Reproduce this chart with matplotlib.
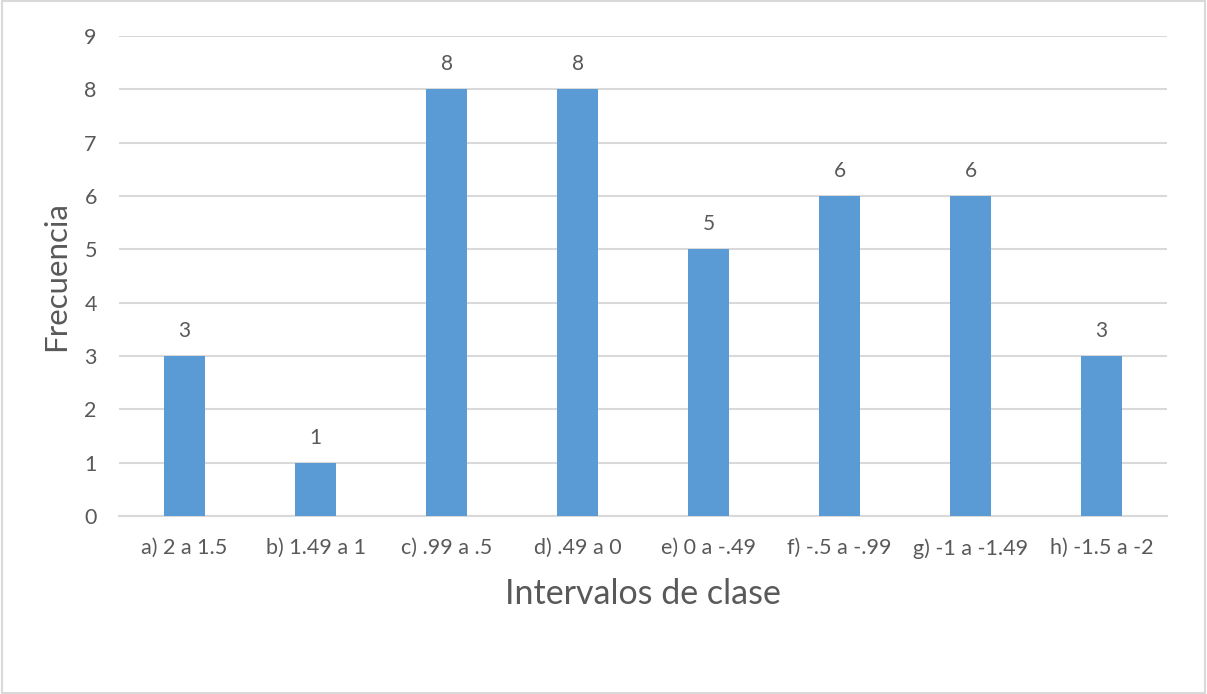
import matplotlib.pyplot as plt
from matplotlib.patches import Rectangle

intervalos = ['a) 2 a 1.5', 'b) 1.49 a 1', 'c) .99 a .5', 'd) .49 a 0',
              'e) 0 a -.49', 'f) -.5 a -.99', 'g) -1 a -1.49', 'h) -1.5 a -2']
frecuencia = [3, 1, 8, 8, 5, 6, 6, 3]
yticks = list(range(0, 10))

AZUL = '#5B9BD5'
GRIS_TEXTO = '#595959'
GRIS_LINEA = '#D9D9D9'

plt.rcParams['font.family'] = ['Lato', 'DejaVu Sans']

fig = plt.figure(figsize=(12.07, 6.94), dpi=100)
# borde del grafico
fig.patches.append(Rectangle((0.002, 0.001), 0.996, 0.997, transform=fig.transFigure,
                             fill=False, edgecolor=GRIS_LINEA, linewidth=1.5))

ax = fig.add_axes([0.0986, 0.2565, 0.8683, 0.6916])
x = range(len(intervalos))
bars = ax.bar(x, frecuencia, width=0.313, color=AZUL, zorder=3)

for rect, v in zip(bars, frecuencia):
    ax.annotate(str(v), (rect.get_x() + rect.get_width() / 2, v),
                xytext=(0, 18), textcoords='offset points',
                ha='center', va='center', fontsize=15, color=GRIS_TEXTO)

ax.set_xlim(-0.5, len(intervalos) - 0.5)
ax.set_ylim(0, 9)
ax.set_yticks(yticks)
ax.set_xticks(list(x))
ax.set_xticklabels(intervalos)
ax.yaxis.grid(True, color=GRIS_LINEA, linewidth=1.5, zorder=0)
ax.set_axisbelow(True)
for s in ['top', 'right', 'left']:
    ax.spines[s].set_visible(False)
ax.spines['bottom'].set_color(GRIS_LINEA)
ax.spines['bottom'].set_linewidth(1.5)
ax.tick_params(axis='both', length=0, labelsize=15.5, labelcolor=GRIS_TEXTO)
ax.tick_params(axis='y', pad=16)
ax.tick_params(axis='x', pad=16)

ax.set_xlabel('Intervalos de clase', fontsize=24.5, color=GRIS_TEXTO, labelpad=14)
ax.set_ylabel('Frecuencia', fontsize=22.5, color=GRIS_TEXTO, labelpad=10)

fig.savefig('out.png', dpi=100)
